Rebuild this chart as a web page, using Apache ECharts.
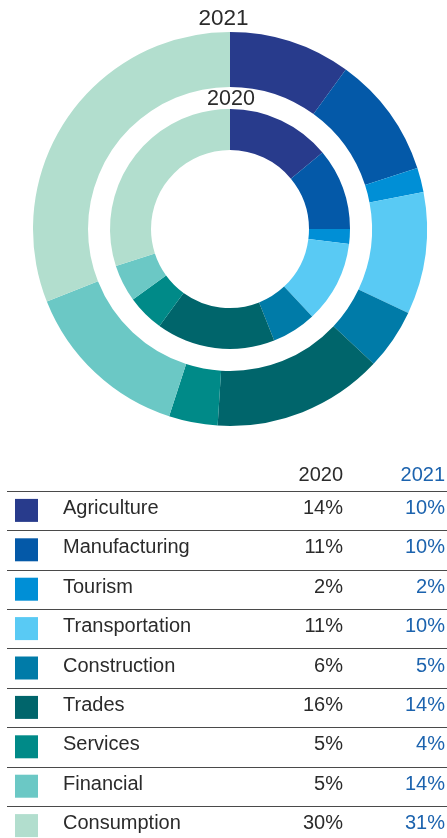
<!DOCTYPE html>
<html>
<head>
<meta charset="utf-8">
<script src="https://cdn.jsdelivr.net/npm/echarts@6/dist/echarts.min.js"></script>
<style>
  html, body { margin: 0; padding: 0; background: #fff; }
  #chart { width: 447px; height: 838px; }
</style>
</head>
<body>
<div id="chart"></div>
<script>
// Sector shares of lending, two years
const sectors = ['Agriculture', 'Manufacturing', 'Tourism', 'Transportation', 'Construction', 'Trades', 'Services', 'Financial', 'Consumption'];
const share2020 = [14, 11, 2, 11, 6, 16, 5, 5, 30];
const share2021 = [10, 10, 2, 10, 5, 14, 4, 14, 31];
const years = ['2020', '2021'];
const palette = ['#283b8c', '#0459a8', '#008fd6', '#59caf4', '#007ba8', '#00656b', '#008a88', '#6bc8c5', '#b2dece'];

const FONT = '"Liberation Sans", Arial, sans-serif';
const DARK = '#2b2b2b';
const BLUE = '#1c63ae';

const chart = echarts.init(document.getElementById('chart'), null, { renderer: 'canvas' });

function ringData(values) {
  return sectors.map((name, i) => ({ name, value: values[i], itemStyle: { color: palette[i] } }));
}

// Table layout
const tableTop = 490.7;
const rowH = 39.4;
const colLeft = 7;
const swatchX = 15;
const swatchSize = 23;
const labelX = 63;
const col2020Right = 343;
const col2021Right = 445;

const graphics = [];

// Ring captions
graphics.push({
  type: 'text', left: 'center', x: 230, style: { x: 228, y: 19, text: years[1], font: '400 22.5px ' + FONT, fill: DARK, textAlign: 'center', textVerticalAlign: 'middle' }
});
graphics.push({
  type: 'text', style: { x: 231, y: 99, text: years[0], font: '400 21.5px ' + FONT, fill: DARK, textAlign: 'center', textVerticalAlign: 'middle' }
});

// Column headers
graphics.push({ type: 'text', style: { x: col2020Right, y: 475, text: years[0], font: '400 20px ' + FONT, fill: DARK, textAlign: 'right', textVerticalAlign: 'middle' } });
graphics.push({ type: 'text', style: { x: col2021Right, y: 475, text: years[1], font: '400 20px ' + FONT, fill: BLUE, textAlign: 'right', textVerticalAlign: 'middle' } });

sectors.forEach((name, i) => {
  const yTop = tableTop + i * rowH;
  const yMid = yTop + rowH / 2;
  graphics.push({
    type: 'line',
    shape: { x1: colLeft, y1: Math.round(yTop) + 0.5, x2: 447, y2: Math.round(yTop) + 0.5 },
    style: { stroke: '#4a4a4a', lineWidth: 1.2 }
  });
  graphics.push({
    type: 'rect',
    shape: { x: swatchX, y: yMid - swatchSize / 2, width: swatchSize, height: swatchSize },
    style: { fill: palette[i] }
  });
  graphics.push({ type: 'text', style: { x: labelX, y: yMid - 2, text: name, font: '400 20px ' + FONT, fill: DARK, textAlign: 'left', textVerticalAlign: 'middle' } });
  graphics.push({ type: 'text', style: { x: col2020Right, y: yMid - 2, text: share2020[i] + '%', font: '400 20px ' + FONT, fill: DARK, textAlign: 'right', textVerticalAlign: 'middle' } });
  graphics.push({ type: 'text', style: { x: col2021Right, y: yMid - 2, text: share2021[i] + '%', font: '400 20px ' + FONT, fill: BLUE, textAlign: 'right', textVerticalAlign: 'middle' } });
});

chart.setOption({
  animation: false,
  backgroundColor: '#ffffff',
  series: [
    {
      name: years[0],
      type: 'pie',
      center: [230, 229],
      radius: [79, 120],
      startAngle: 90,
      clockwise: true,
      label: { show: false },
      labelLine: { show: false },
      emphasis: { disabled: true },
      data: ringData(share2020)
    },
    {
      name: years[1],
      type: 'pie',
      center: [230, 229],
      radius: [142, 197],
      startAngle: 90,
      clockwise: true,
      label: { show: false },
      labelLine: { show: false },
      emphasis: { disabled: true },
      data: ringData(share2021)
    }
  ],
  graphic: { elements: graphics }
});
</script>
</body>
</html>
